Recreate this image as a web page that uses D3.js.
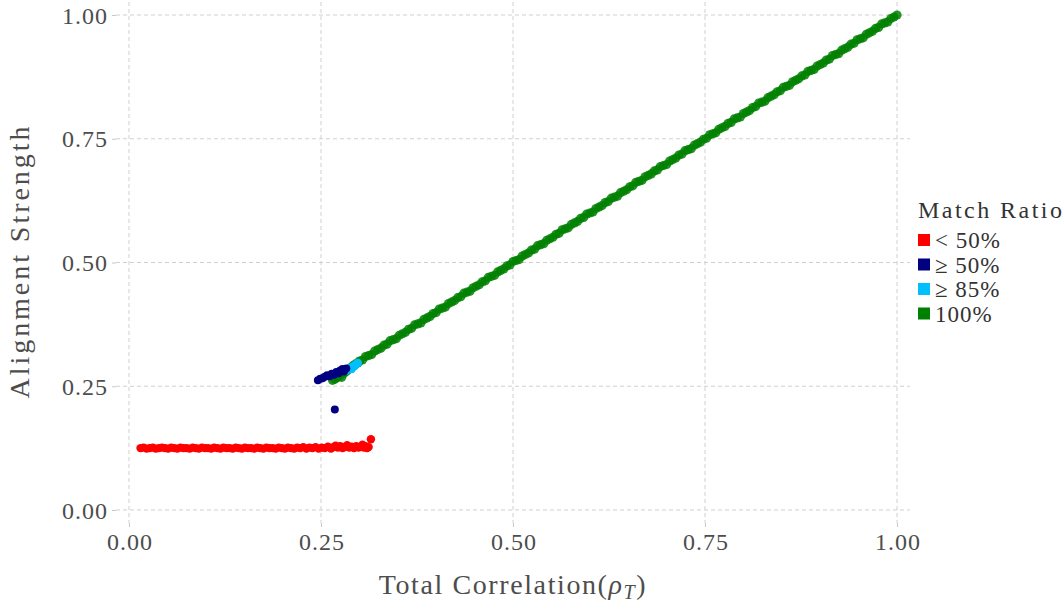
<!DOCTYPE html>
<html>
<head>
<meta charset="utf-8">
<script src="https://cdn.jsdelivr.net/npm/d3@7"></script>
<style>
  body { margin: 0; background: #fff; }
  text { font-family: "Liberation Serif", "DejaVu Serif", serif; }
</style>
</head>
<body>
<script>
// chart size
var w = 1064, h = 604;

// tick values / labels
var xTicks = [0, 0.25, 0.5, 0.75, 1];
var yTicks = [0, 0.25, 0.5, 0.75, 1];

// legend categories and colours
var categories = ["< 50%", "\u2265 50%", "\u2265 85%", "100%"];
var catColors = ["#ff0000", "#000080", "#00bfff", "#008000"];

// points: [total correlation, alignment strength]
var redPoints = [
  [0.015,0.125],[0.019,0.126],[0.023,0.124],[0.027,0.125],[0.031,0.126],[0.035,0.124],
  [0.039,0.125],[0.043,0.126],[0.047,0.125],[0.051,0.124],[0.055,0.126],[0.059,0.125],
  [0.063,0.124],[0.067,0.126],[0.071,0.125],[0.075,0.125],[0.079,0.124],[0.083,0.126],
  [0.087,0.125],[0.091,0.124],[0.095,0.126],[0.099,0.125],[0.103,0.125],[0.107,0.124],
  [0.111,0.126],[0.115,0.125],[0.119,0.124],[0.123,0.126],[0.127,0.125],[0.131,0.125],
  [0.135,0.124],[0.139,0.126],[0.143,0.125],[0.147,0.124],[0.151,0.126],[0.155,0.125],
  [0.159,0.125],[0.163,0.124],[0.167,0.126],[0.171,0.125],[0.175,0.124],[0.179,0.126],
  [0.183,0.125],[0.187,0.125],[0.191,0.124],[0.195,0.126],[0.199,0.125],[0.203,0.124],
  [0.207,0.126],[0.211,0.125],[0.215,0.124],[0.219,0.126],[0.223,0.125],[0.227,0.127],
  [0.231,0.124],[0.235,0.126],[0.239,0.125],[0.243,0.127],[0.247,0.124],[0.251,0.126],
  [0.255,0.125],[0.259,0.128],[0.263,0.124],[0.266,0.127],[0.269,0.130],[0.272,0.126],
  [0.275,0.129],[0.278,0.125],[0.281,0.127],[0.284,0.131],[0.287,0.126],[0.290,0.128],
  [0.293,0.125],[0.296,0.129],[0.299,0.126],[0.302,0.128],[0.304,0.132],[0.306,0.126],
  [0.308,0.129],[0.310,0.125],[0.312,0.127],[0.315,0.143]
];

var navyPoints = [
  [0.246,0.262],[0.249,0.265],[0.252,0.266],[0.255,0.269],[0.258,0.272],[0.261,0.270],
  [0.264,0.275],[0.267,0.273],[0.270,0.279],[0.273,0.276],[0.275,0.282],[0.278,0.285],
  [0.280,0.280],[0.283,0.286],[0.268,0.203]
];

var cyanPoints = [
  [0.283,0.281],[0.286,0.285],[0.289,0.288],[0.292,0.290],[0.295,0.294],[0.298,0.297],
  [0.290,0.285],[0.294,0.291]
];

var greenPoints = [
  [0.265,0.262],[0.268,0.264],[0.271,0.267],[0.274,0.270],[0.277,0.268],[0.280,0.276],
  [0.283,0.280],[0.286,0.284],[0.289,0.288],[0.292,0.292],[0.295,0.295],[0.298,0.297],
  [0.300,0.301],[0.304,0.303],[0.308,0.310],[0.312,0.312],[0.316,0.314],[0.320,0.321],[0.324,0.324],[0.328,0.327],
  [0.332,0.333],[0.336,0.335],[0.340,0.342],[0.344,0.344],[0.348,0.346],[0.352,0.353],[0.356,0.356],[0.360,0.359],
  [0.364,0.365],[0.368,0.367],[0.372,0.374],[0.376,0.376],[0.380,0.378],[0.384,0.385],[0.388,0.388],[0.392,0.391],
  [0.396,0.397],[0.400,0.399],[0.404,0.406],[0.408,0.408],[0.412,0.410],[0.416,0.417],[0.420,0.420],[0.424,0.423],
  [0.428,0.429],[0.432,0.431],[0.436,0.438],[0.440,0.440],[0.444,0.442],[0.448,0.449],[0.452,0.452],[0.456,0.455],
  [0.460,0.461],[0.464,0.463],[0.468,0.470],[0.472,0.472],[0.476,0.474],[0.480,0.481],[0.484,0.484],[0.488,0.487],
  [0.492,0.493],[0.496,0.495],[0.500,0.502],[0.504,0.504],[0.508,0.506],[0.512,0.513],[0.516,0.516],[0.520,0.519],
  [0.524,0.525],[0.528,0.527],[0.532,0.534],[0.536,0.536],[0.540,0.538],[0.544,0.545],[0.548,0.548],[0.552,0.551],
  [0.556,0.557],[0.560,0.559],[0.564,0.566],[0.568,0.568],[0.572,0.570],[0.576,0.577],[0.580,0.580],[0.584,0.583],
  [0.588,0.589],[0.592,0.591],[0.596,0.598],[0.600,0.600],[0.604,0.602],[0.608,0.609],[0.612,0.612],[0.616,0.615],
  [0.620,0.621],[0.624,0.623],[0.628,0.630],[0.632,0.632],[0.636,0.634],[0.640,0.641],[0.644,0.644],[0.648,0.647],
  [0.652,0.653],[0.656,0.655],[0.660,0.662],[0.664,0.664],[0.668,0.666],[0.672,0.673],[0.676,0.676],[0.680,0.679],
  [0.684,0.685],[0.688,0.687],[0.692,0.694],[0.696,0.696],[0.700,0.698],[0.704,0.705],[0.708,0.708],[0.712,0.711],
  [0.716,0.717],[0.720,0.719],[0.724,0.726],[0.728,0.728],[0.732,0.730],[0.736,0.737],[0.740,0.740],[0.744,0.743],
  [0.748,0.749],[0.752,0.751],[0.756,0.758],[0.760,0.760],[0.764,0.762],[0.768,0.769],[0.772,0.772],[0.776,0.775],
  [0.780,0.781],[0.784,0.783],[0.788,0.790],[0.792,0.792],[0.796,0.794],[0.800,0.801],[0.804,0.804],[0.808,0.807],
  [0.812,0.813],[0.816,0.815],[0.820,0.822],[0.824,0.824],[0.828,0.826],[0.832,0.833],[0.836,0.836],[0.840,0.839],
  [0.844,0.845],[0.848,0.847],[0.852,0.854],[0.856,0.856],[0.860,0.858],[0.864,0.865],[0.868,0.868],[0.872,0.871],
  [0.876,0.877],[0.880,0.879],[0.884,0.886],[0.888,0.888],[0.892,0.890],[0.896,0.897],[0.900,0.900],[0.904,0.903],
  [0.908,0.909],[0.912,0.911],[0.916,0.918],[0.920,0.920],[0.924,0.922],[0.928,0.929],[0.932,0.932],[0.936,0.935],
  [0.940,0.941],[0.944,0.943],[0.948,0.950],[0.952,0.952],[0.956,0.954],[0.960,0.961],[0.964,0.964],[0.968,0.967],
  [0.972,0.973],[0.976,0.975],[0.980,0.982],[0.984,0.984],[0.988,0.986],[0.992,0.993],[0.996,0.996],[1.000,1.000]
];

// panel box
var panel = { left: 116, right: 910, top: 2, bottom: 523 };

var x = d3.scaleLinear().domain([-0.0169, 1.0169]).range([panel.left, panel.right]);
var y = d3.scaleLinear().domain([-0.0263, 1.0263]).range([panel.bottom, panel.top]);

var svg = d3.select("body")
    .append("svg")
    .attr("width", w)
    .attr("height", h);

var textColor = "#4d4d4d";
var gridColor = "#d0d0d0";

// grid lines
svg.append("g").selectAll("line.vgrid")
    .data(xTicks)
    .enter()
    .append("line")
    .attr("class", "vgrid")
    .attr("x1", function(d){ return x(d); })
    .attr("x2", function(d){ return x(d); })
    .attr("y1", panel.top)
    .attr("y2", panel.bottom)
    .attr("stroke", gridColor)
    .attr("stroke-dasharray", "4,3");

svg.append("g").selectAll("line.hgrid")
    .data(yTicks)
    .enter()
    .append("line")
    .attr("class", "hgrid")
    .attr("x1", panel.left)
    .attr("x2", panel.right)
    .attr("y1", function(d){ return y(d); })
    .attr("y2", function(d){ return y(d); })
    .attr("stroke", gridColor)
    .attr("stroke-dasharray", "4,3");

// axes
var xAxis = svg.append("g")
    .attr("transform", "translate(0," + panel.bottom + ")")
    .call(d3.axisBottom(x).tickValues(xTicks).tickSize(4).tickPadding(6)
        .tickFormat(d3.format(".2f")));

var yAxis = svg.append("g")
    .attr("transform", "translate(" + panel.left + ",0)")
    .call(d3.axisLeft(y).tickValues(yTicks).tickSize(4).tickPadding(5)
        .tickFormat(d3.format(".2f")));

[xAxis, yAxis].forEach(function(a){
    a.select(".domain").remove();
    a.selectAll(".tick line").attr("stroke", "#c8c8c8");
    a.selectAll(".tick text")
        .attr("fill", textColor)
        .attr("textLength", 45)
        .attr("lengthAdjust", "spacing")
        .style("font-size", "24px")
        .style("font-family", "'Liberation Serif', serif");
});
yAxis.selectAll(".tick text").attr("dy", "0.34em");

// points
function drawPoints(data, color, cls, r, opacity){
    svg.append("g").selectAll("circle." + cls)
        .data(data)
        .enter()
        .append("circle")
        .attr("class", cls)
        .attr("cx", function(d){ return x(d[0]); })
        .attr("cy", function(d){ return y(d[1]); })
        .attr("r", r)
        .attr("fill", color)
        .attr("fill-opacity", opacity);
}
drawPoints(redPoints, catColors[0], "red", 4.2, 1);
drawPoints(greenPoints, catColors[3], "green", 4.6, 0.85);
drawPoints(cyanPoints, catColors[2], "cyan", 4.2, 1);
drawPoints(navyPoints, catColors[1], "navy", 4, 1);

// axis titles
var xTitle = svg.append("text")
    .attr("x", (x(0) + x(1)) / 2)
    .attr("y", 594)
    .attr("text-anchor", "middle")
    .attr("fill", textColor)
    .style("font-size", "28px")
    .style("letter-spacing", "1.6px");
xTitle.append("tspan").text("Total Correlation(");
xTitle.append("tspan").style("font-style", "italic").text("\u03c1");
xTitle.append("tspan").style("font-style", "italic").style("font-size", "20px")
    .attr("dy", 5).text("T");
xTitle.append("tspan").attr("dy", -5).text(")");

svg.append("text")
    .attr("transform", "translate(29," + y(0.5) + ") rotate(-90)")
    .attr("text-anchor", "middle")
    .attr("fill", textColor)
    .attr("textLength", 272)
    .attr("lengthAdjust", "spacing")
    .style("font-size", "28px")
    .text("Alignment Strength");

// legend
var legend = svg.append("g").attr("transform", "translate(918,0)");
legend.append("text")
    .attr("x", 0)
    .attr("y", 218)
    .attr("fill", "#333")
    .attr("textLength", 144)
    .attr("lengthAdjust", "spacing")
    .style("font-size", "24px")
    .text("Match Ratio");

var items = legend.selectAll("g.item")
    .data(categories)
    .enter()
    .append("g")
    .attr("class", "item")
    .attr("transform", function(d, i){ return "translate(0," + (240 + i * 24.5) + ")"; });

items.append("rect")
    .attr("x", 0)
    .attr("y", -6)
    .attr("width", 12)
    .attr("height", 12)
    .attr("fill", function(d, i){ return catColors[i]; });

items.append("text")
    .attr("x", 17)
    .attr("y", 0)
    .attr("dy", "0.35em")
    .attr("fill", "#333")
    .style("font-size", "23px")
    .style("letter-spacing", "1px")
    .text(function(d){ return d; });
</script>
</body>
</html>
